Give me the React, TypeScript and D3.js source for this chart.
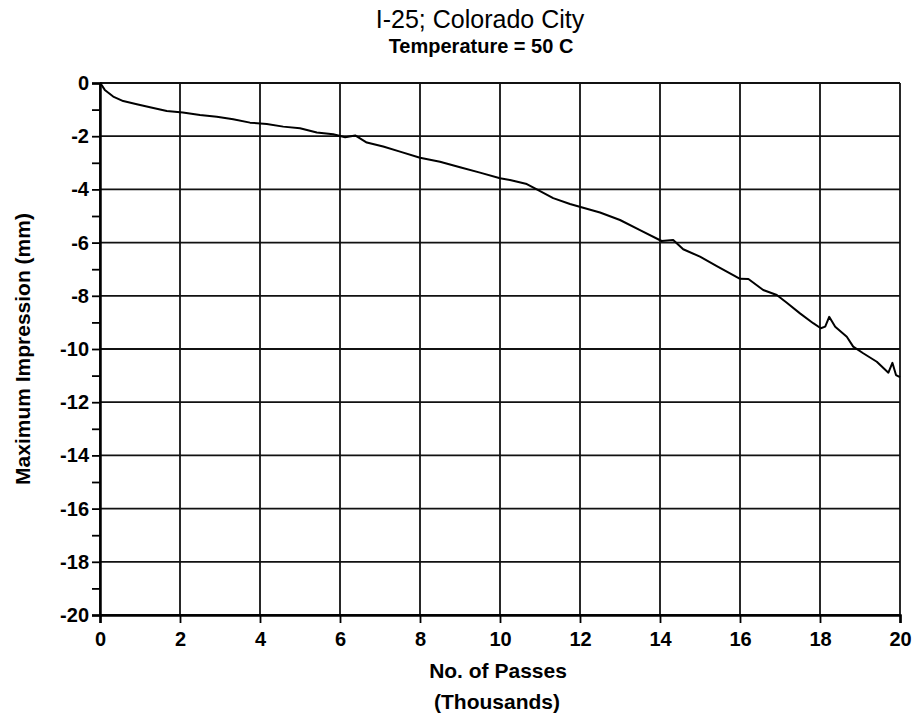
import React, { useEffect, useRef } from "react";
import * as d3 from "d3";

const passes: number[] = [0.02, 0.05, 0.12, 0.33, 0.58, 0.92, 1.25, 1.67, 2.07, 2.5, 2.92, 3.33, 3.75, 4.17, 4.58, 5.0, 5.42, 5.83, 6.13, 6.38, 6.67, 7.08, 7.5, 8.0, 8.5, 9.0, 9.5, 10.0, 10.25, 10.67, 10.92, 11.33, 11.75, 12.08, 12.5, 13.0, 13.5, 14.04, 14.33, 14.58, 15.0, 15.42, 15.83, 16.0, 16.21, 16.58, 16.92, 17.17, 17.5, 17.83, 18.02, 18.13, 18.23, 18.38, 18.67, 18.83, 19.08, 19.42, 19.71, 19.81, 19.9, 20.0];
const impression: number[] = [-0.02, -0.1, -0.26, -0.51, -0.68, -0.8, -0.91, -1.05, -1.11, -1.2, -1.27, -1.36, -1.49, -1.54, -1.64, -1.7, -1.86, -1.93, -2.04, -1.97, -2.24, -2.39, -2.58, -2.81, -2.96, -3.17, -3.37, -3.58, -3.65, -3.8, -4.0, -4.33, -4.55, -4.69, -4.87, -5.15, -5.53, -5.94, -5.9, -6.25, -6.53, -6.88, -7.22, -7.36, -7.37, -7.78, -7.97, -8.26, -8.66, -9.03, -9.22, -9.16, -8.79, -9.16, -9.54, -9.91, -10.16, -10.48, -10.89, -10.52, -10.98, -11.06];
const xTicks: number[] = [0, 2, 4, 6, 8, 10, 12, 14, 16, 18, 20];
const yTicks: number[] = [0, -2, -4, -6, -8, -10, -12, -14, -16, -18, -20];
const yMinorTicks: number[] = [-1, -3, -5, -7, -9, -11, -13, -15, -17, -19];
const titleLines: string[] = ["I-25; Colorado City", "Temperature = 50 C"];
const xLabelLines: string[] = ["No. of Passes", "(Thousands)"];
const yLabel = "Maximum Impression (mm)";

const FONT = "'Liberation Sans', Arial, Helvetica, sans-serif";

export default function App() {
  const ref = useRef<SVGSVGElement | null>(null);

  useEffect(() => {
    const svg = d3.select(ref.current);
    svg.selectAll("*").remove();
    const x = d3.scaleLinear().domain([0, 20]).range([100, 900]);
    const y = d3.scaleLinear().domain([0, -20]).range([83, 615]);
    const [x0, x1] = x.range();
    const [y0, y1] = y.range();
    const fmt = (d: any) => String(d);

    // grid
    const grid = svg.append("g").attr("stroke", "#111").attr("stroke-width", 1.8);
    grid.selectAll("line.v").data(xTicks).join("line")
      .attr("x1", (d) => x(d)).attr("x2", (d) => x(d))
      .attr("y1", y0).attr("y2", y1);
    grid.selectAll("line.h").data(yTicks).join("line")
      .attr("x1", x0).attr("x2", x1)
      .attr("y1", (d) => y(d)).attr("y2", (d) => y(d));

    // y axis
    const ya = svg.append("g").attr("transform", `translate(${x0},0)`)
      .call(d3.axisLeft(y).tickValues(yTicks).tickSize(8).tickPadding(3).tickFormat(fmt));
    ya.select(".domain").attr("stroke", "#000").attr("stroke-width", 2.5);
    ya.selectAll(".tick line").attr("stroke", "#000").attr("stroke-width", 1.8);
    ya.selectAll(".tick text").attr("font-family", FONT).attr("font-size", 20).attr("font-weight", "bold").attr("fill", "#000");
    const yam = svg.append("g").attr("transform", `translate(${x0},0)`)
      .call(d3.axisLeft(y).tickValues(yMinorTicks).tickSize(8).tickFormat(() => ""));
    yam.select(".domain").remove();
    yam.selectAll(".tick line").attr("stroke", "#000").attr("stroke-width", 1.8);

    // x axis
    const xa = svg.append("g").attr("transform", `translate(0,${y1})`)
      .call(d3.axisBottom(x).tickValues(xTicks).tickSize(8).tickPadding(9).tickFormat(fmt));
    xa.select(".domain").attr("stroke", "#000").attr("stroke-width", 2.5);
    xa.selectAll(".tick line").attr("stroke", "#000").attr("stroke-width", 1.8);
    xa.selectAll(".tick text").attr("font-family", FONT).attr("font-size", 20).attr("font-weight", "bold").attr("fill", "#000");

    // curve
    const pts = passes.map((p, i) => [p, impression[i]] as [number, number]);
    const line = d3.line<[number, number]>().x((d) => x(d[0])).y((d) => y(d[1]));
    svg.append("path").attr("d", line(pts) as string)
      .attr("fill", "none").attr("stroke", "#000").attr("stroke-width", 2).attr("stroke-linejoin", "round");

    // titles
    svg.append("text").attr("x", 480).attr("y", 28).attr("text-anchor", "middle")
      .attr("font-family", FONT).attr("font-size", 25).attr("fill", "#000").text(titleLines[0]);
    svg.append("text").attr("x", 481).attr("y", 53).attr("text-anchor", "middle")
      .attr("font-family", FONT).attr("font-size", 20).attr("font-weight", "bold").attr("fill", "#000").text(titleLines[1]);

    svg.append("text").attr("x", 498).attr("y", 678).attr("text-anchor", "middle")
      .attr("font-family", FONT).attr("font-size", 21).attr("font-weight", "bold").attr("fill", "#000").text(xLabelLines[0]);
    svg.append("text").attr("x", 497).attr("y", 709).attr("text-anchor", "middle")
      .attr("font-family", FONT).attr("font-size", 21).attr("font-weight", "bold").attr("fill", "#000").text(xLabelLines[1]);

    svg.append("text").attr("transform", `translate(30,349) rotate(-90)`).attr("text-anchor", "middle")
      .attr("font-family", FONT).attr("font-size", 21).attr("font-weight", "bold").attr("fill", "#000").text(yLabel);
  }, []);

  return (
    <svg ref={ref} width={916} height={722} style={{ position: "absolute", left: 0, top: 0, background: "#fff" }} />
  );
}
